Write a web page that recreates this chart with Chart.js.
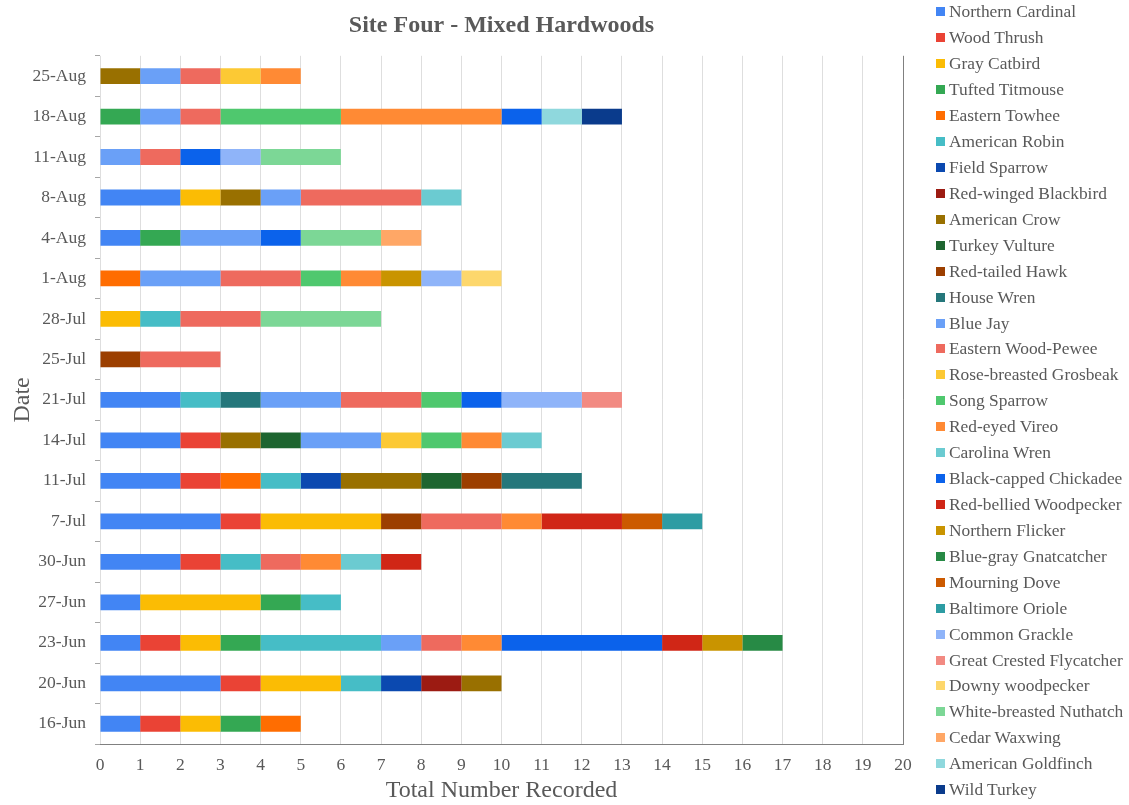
<!DOCTYPE html>
<html>
<head>
<meta charset="utf-8">
<script src="https://cdn.jsdelivr.net/npm/chart.js@4"></script>
<style>
  body { margin: 0; background: #fff; }
  #wrap { position: relative; width: 1129px; height: 805px; }
  #legend { position: absolute; left: 936px; top: -1px; font-family: "Liberation Serif", serif; font-size: 17.4px; color: #595959; }
  .item { height: 25.93px; display: flex; align-items: center; white-space: nowrap; }
  .box { width: 9px; height: 9px; margin-right: 4px; flex: none; }
</style>
</head>
<body>
<div id="wrap">
  <canvas id="myChart" width="1129" height="805"></canvas>
  <div id="legend"></div>
</div>
<script>
// dates, bottom to top
const dates = ['16-Jun', '20-Jun', '23-Jun', '27-Jun', '30-Jun', '7-Jul', '11-Jul', '14-Jul', '21-Jul',
  '25-Jul', '28-Jul', '1-Aug', '4-Aug', '8-Aug', '11-Aug', '18-Aug', '25-Aug'];

const species = ['Northern Cardinal', 'Wood Thrush', 'Gray Catbird', 'Tufted Titmouse', 'Eastern Towhee',
  'American Robin', 'Field Sparrow', 'Red-winged Blackbird', 'American Crow', 'Turkey Vulture',
  'Red-tailed Hawk', 'House Wren', 'Blue Jay', 'Eastern Wood-Pewee', 'Rose-breasted Grosbeak',
  'Song Sparrow', 'Red-eyed Vireo', 'Carolina Wren', 'Black-capped Chickadee', 'Red-bellied Woodpecker',
  'Northern Flicker', 'Blue-gray Gnatcatcher', 'Mourning Dove', 'Baltimore Oriole', 'Common Grackle',
  'Great Crested Flycatcher', 'Downy woodpecker', 'White-breasted Nuthatch', 'Cedar Waxwing',
  'American Goldfinch', 'Wild Turkey'];

const colors = ['#4285f4', '#ea4335', '#fbbc04', '#34a853', '#ff6d01',
  '#46bdc6', '#0b49b0', '#9c1b12', '#997000', '#1e6530',
  '#9c3f00', '#25777b', '#6aa0f7', '#ee6a5e', '#fcc934',
  '#4fc86e', '#ff8a34', '#6bcbd1', '#0b62eb', '#d02616',
  '#c99400', '#278a45', '#cc5a00', '#2d9ca3', '#8fb4f9',
  '#f28a82', '#fdd76c', '#7cd796', '#ffa766', '#8fd8dd', '#0a3b8c'];

// counts per species, one value per date
const northernCardinal = [1, 3, 1, 1, 2, 3, 2, 2, 2, 0, 0, 0, 1, 2, 0, 0, 0];
const woodThrush       = [1, 1, 1, 0, 1, 1, 1, 1, 0, 0, 0, 0, 0, 0, 0, 0, 0];
const grayCatbird      = [1, 2, 1, 3, 0, 3, 0, 0, 0, 0, 1, 0, 0, 1, 0, 0, 0];
const tuftedTitmouse   = [1, 0, 1, 1, 0, 0, 0, 0, 0, 0, 0, 0, 1, 0, 0, 1, 0];
const easternTowhee    = [1, 0, 0, 0, 0, 0, 1, 0, 0, 0, 0, 1, 0, 0, 0, 0, 0];
const americanRobin    = [0, 1, 3, 1, 1, 0, 1, 0, 1, 0, 1, 0, 0, 0, 0, 0, 0];
const fieldSparrow     = [0, 1, 0, 0, 0, 0, 1, 0, 0, 0, 0, 0, 0, 0, 0, 0, 0];
const redWingedBlackbird = [0, 1, 0, 0, 0, 0, 0, 0, 0, 0, 0, 0, 0, 0, 0, 0, 0];
const americanCrow     = [0, 1, 0, 0, 0, 0, 2, 1, 0, 0, 0, 0, 0, 1, 0, 0, 1];
const turkeyVulture    = [0, 0, 0, 0, 0, 0, 1, 1, 0, 0, 0, 0, 0, 0, 0, 0, 0];
const redTailedHawk    = [0, 0, 0, 0, 0, 1, 1, 0, 0, 1, 0, 0, 0, 0, 0, 0, 0];
const houseWren        = [0, 0, 0, 0, 0, 0, 2, 0, 1, 0, 0, 0, 0, 0, 0, 0, 0];
const blueJay          = [0, 0, 1, 0, 0, 0, 0, 2, 2, 0, 0, 2, 2, 1, 1, 1, 1];
const easternWoodPewee = [0, 0, 1, 0, 1, 2, 0, 0, 2, 2, 2, 2, 0, 3, 1, 1, 1];
const roseBreastedGrosbeak = [0, 0, 0, 0, 0, 0, 0, 1, 0, 0, 0, 0, 0, 0, 0, 0, 1];
const songSparrow      = [0, 0, 0, 0, 0, 0, 0, 1, 1, 0, 0, 1, 0, 0, 0, 3, 0];
const redEyedVireo     = [0, 0, 1, 0, 1, 1, 0, 1, 0, 0, 0, 1, 0, 0, 0, 4, 1];
const carolinaWren     = [0, 0, 0, 0, 1, 0, 0, 1, 0, 0, 0, 0, 0, 1, 0, 0, 0];
const blackCappedChickadee = [0, 0, 4, 0, 0, 0, 0, 0, 1, 0, 0, 0, 1, 0, 1, 1, 0];
const redBelliedWoodpecker = [0, 0, 1, 0, 1, 2, 0, 0, 0, 0, 0, 0, 0, 0, 0, 0, 0];
const northernFlicker  = [0, 0, 1, 0, 0, 0, 0, 0, 0, 0, 0, 1, 0, 0, 0, 0, 0];
const blueGrayGnatcatcher = [0, 0, 1, 0, 0, 0, 0, 0, 0, 0, 0, 0, 0, 0, 0, 0, 0];
const mourningDove     = [0, 0, 0, 0, 0, 1, 0, 0, 0, 0, 0, 0, 0, 0, 0, 0, 0];
const baltimoreOriole  = [0, 0, 0, 0, 0, 1, 0, 0, 0, 0, 0, 0, 0, 0, 0, 0, 0];
const commonGrackle    = [0, 0, 0, 0, 0, 0, 0, 0, 2, 0, 0, 1, 0, 0, 1, 0, 0];
const greatCrestedFlycatcher = [0, 0, 0, 0, 0, 0, 0, 0, 1, 0, 0, 0, 0, 0, 0, 0, 0];
const downyWoodpecker  = [0, 0, 0, 0, 0, 0, 0, 0, 0, 0, 0, 1, 0, 0, 0, 0, 0];
const whiteBreastedNuthatch = [0, 0, 0, 0, 0, 0, 0, 0, 0, 0, 3, 0, 2, 0, 2, 0, 0];
const cedarWaxwing     = [0, 0, 0, 0, 0, 0, 0, 0, 0, 0, 0, 0, 1, 0, 0, 0, 0];
const americanGoldfinch = [0, 0, 0, 0, 0, 0, 0, 0, 0, 0, 0, 0, 0, 0, 0, 1, 0];
const wildTurkey       = [0, 0, 0, 0, 0, 0, 0, 0, 0, 0, 0, 0, 0, 0, 0, 1, 0];

const xTicks = [0, 20];

const counts = [northernCardinal, woodThrush, grayCatbird, tuftedTitmouse, easternTowhee,
  americanRobin, fieldSparrow, redWingedBlackbird, americanCrow, turkeyVulture,
  redTailedHawk, houseWren, blueJay, easternWoodPewee, roseBreastedGrosbeak,
  songSparrow, redEyedVireo, carolinaWren, blackCappedChickadee, redBelliedWoodpecker,
  northernFlicker, blueGrayGnatcatcher, mourningDove, baltimoreOriole, commonGrackle,
  greatCrestedFlycatcher, downyWoodpecker, whiteBreastedNuthatch, cedarWaxwing,
  americanGoldfinch, wildTurkey];

const serif = '"Liberation Serif", "Times New Roman", serif';
const textColor = '#595959';

const datasets = species.map((name, i) => ({
  label: name,
  data: counts[i],
  backgroundColor: colors[i],
  borderWidth: 0,
  barPercentage: 0.39,
  categoryPercentage: 1
}));

const ctx = document.getElementById('myChart').getContext('2d');

let chart = new Chart(ctx, {
  type: 'bar',
  data: { labels: dates, datasets: datasets },
  options: {
    indexAxis: 'y',
    responsive: false,
    animation: false,
    events: [],
    layout: { padding: { left: 0, right: 226, top: 0, bottom: 0 } },
    plugins: {
      legend: { display: false },
      tooltip: { enabled: false },
      title: {
        display: true,
        text: 'Site Four - Mixed Hardwoods',
        color: textColor,
        fullSize: false,
        font: { family: serif, size: 24, weight: 'bold' },
        padding: { top: 11, bottom: 16 }
      }
    },
    scales: {
      x: {
        stacked: true,
        min: xTicks[0],
        max: xTicks[1],
        ticks: { stepSize: 1, color: textColor, font: { family: serif, size: 17.5 }, padding: 11 },
        grid: {
          drawTicks: false,
          color: c => (c.tick && c.tick.value === xTicks[1]) ? '#808080' : '#dedede'
        },
        border: { display: true, color: '#808080' },
        title: {
          display: true,
          text: 'Total Number Recorded',
          color: textColor,
          font: { family: serif, size: 24 },
          padding: { top: 0, bottom: 0 }
        },
        afterFit: s => { s.height = 61; }
      },
      y: {
        stacked: true,
        reverse: true,
        ticks: { color: textColor, font: { family: serif, size: 17.5 }, padding: 9 },
        grid: { drawOnChartArea: false, tickLength: 5, color: '#a6a6a6' },
        border: { display: false },
        title: {
          display: true,
          text: 'Date',
          color: textColor,
          font: { family: serif, size: 24 },
          padding: { top: 8, bottom: 0 }
        },
        afterFit: s => { s.width = 100; }
      }
    }
  }
});

// legend on the right, built from the same arrays
const legend = document.getElementById('legend');
species.forEach((name, i) => {
  const row = document.createElement('div');
  row.className = 'item';
  const box = document.createElement('span');
  box.className = 'box';
  box.style.background = colors[i];
  const txt = document.createElement('span');
  txt.textContent = name;
  row.appendChild(box);
  row.appendChild(txt);
  legend.appendChild(row);
});
</script>
</body>
</html>
